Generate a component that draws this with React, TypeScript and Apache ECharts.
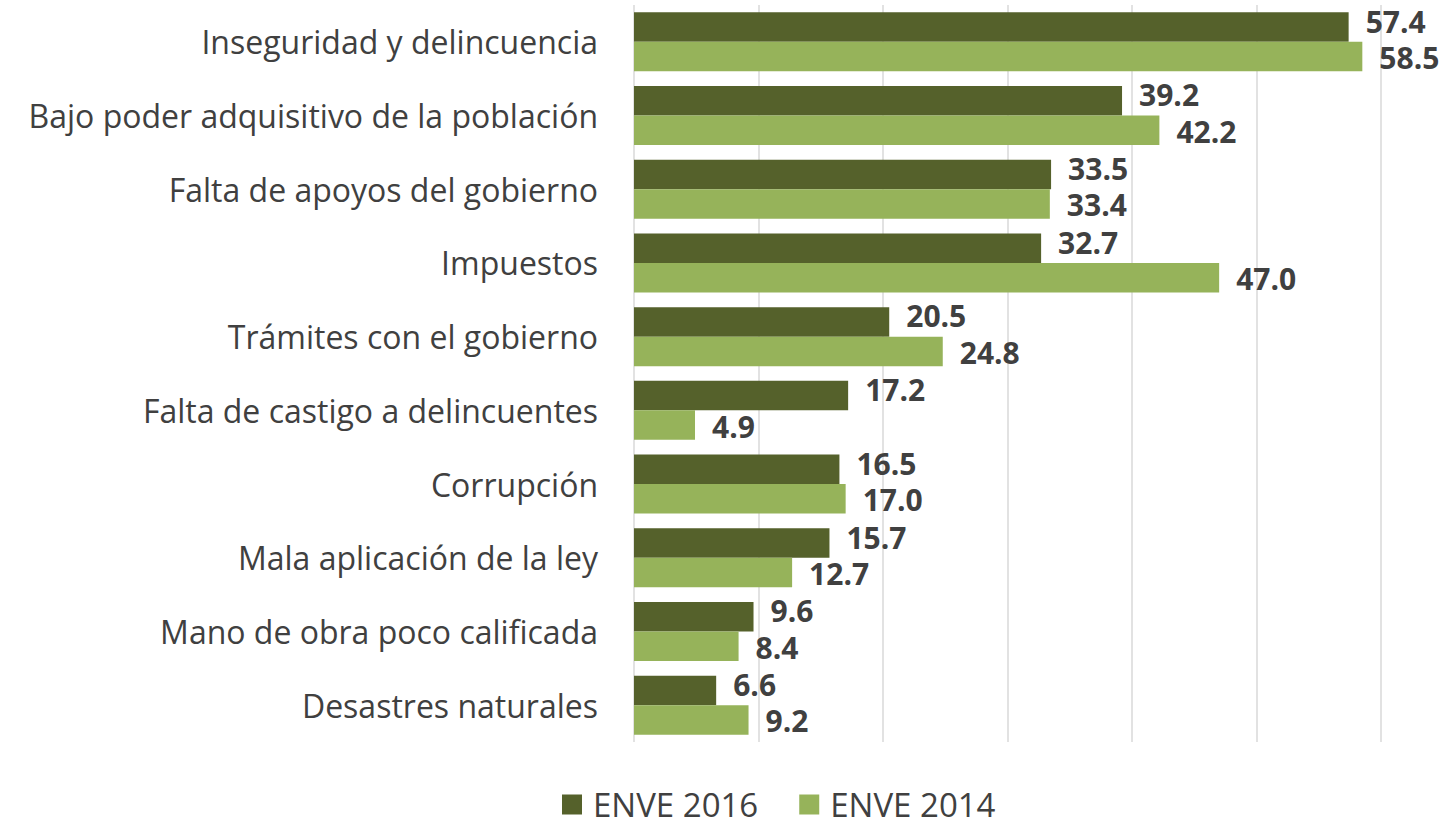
import React, { useEffect, useRef } from "react";
import * as echarts from "echarts";

const categories = [
  "Inseguridad y delincuencia",
  "Bajo poder adquisitivo de la población",
  "Falta de apoyos del gobierno",
  "Impuestos",
  "Trámites con el gobierno",
  "Falta de castigo a delincuentes",
  "Corrupción",
  "Mala aplicación de la ley",
  "Mano de obra poco calificada",
  "Desastres naturales",
];
const enve2016 = [57.4, 39.2, 33.5, 32.7, 20.5, 17.2, 16.5, 15.7, 9.6, 6.6];
const enve2014 = [58.5, 42.2, 33.4, 47.0, 24.8, 4.9, 17.0, 12.7, 8.4, 9.2];

const FONT = "'Open Sans', sans-serif";

export default function App() {
  const ref = useRef<HTMLDivElement>(null);
  useEffect(() => {
    if (!ref.current) return;
    const chart = echarts.init(ref.current, undefined, { renderer: "svg" });
    const labelCfg = {
      show: true,
      position: "right" as const,
      distance: 17,
      fontFamily: FONT,
      fontSize: 30,
      lineHeight: 30,
      fontWeight: "bold" as const,
      color: "#404040",
      formatter: (p: any) => Number(p.value).toFixed(1),
    };
    chart.setOption({
      animation: false,
      backgroundColor: "#ffffff",
      grid: { left: 634, right: 61, top: 5, bottom: 78, containLabel: false },
      legend: {
        left: 562,
        top: 788,
        padding: 0,
        itemWidth: 20,
        itemHeight: 20,
        itemGap: 41,
        icon: "rect",
        textStyle: {
          fontFamily: FONT,
          fontSize: 33,
          color: "#404040",
          padding: [0, 0, 0, 6],
        },
        data: ["ENVE 2016", "ENVE 2014"],
      },
      xAxis: {
        type: "value",
        min: 0,
        max: 60,
        interval: 10,
        axisLabel: { show: false },
        axisLine: { show: false },
        axisTick: { show: false },
        splitLine: { show: true, lineStyle: { color: "#D9D9D9", width: 1.5 } },
      },
      yAxis: {
        type: "category",
        inverse: true,
        data: categories,
        axisLine: { show: false },
        axisTick: { show: false },
        axisLabel: {
          margin: 36,
          fontFamily: FONT,
          fontSize: 32,
          color: "#404040",
        },
      },
      series: [
        {
          name: "ENVE 2016",
          type: "bar",
          data: enve2016,
          barGap: "0%",
          barCategoryGap: "20%",
          itemStyle: { color: "#55612B" },
          label: { ...labelCfg, offset: [0, -6] },
        },
        {
          name: "ENVE 2014",
          type: "bar",
          data: enve2014,
          barGap: "0%",
          barCategoryGap: "20%",
          itemStyle: { color: "#96B35A" },
          label: { ...labelCfg, offset: [0, 1] },
        },
      ],
    });
    return () => chart.dispose();
  }, []);
  return (
    <div
      ref={ref}
      style={{ position: "absolute", left: 0, top: 0, width: 1442, height: 820 }}
    />
  );
}
